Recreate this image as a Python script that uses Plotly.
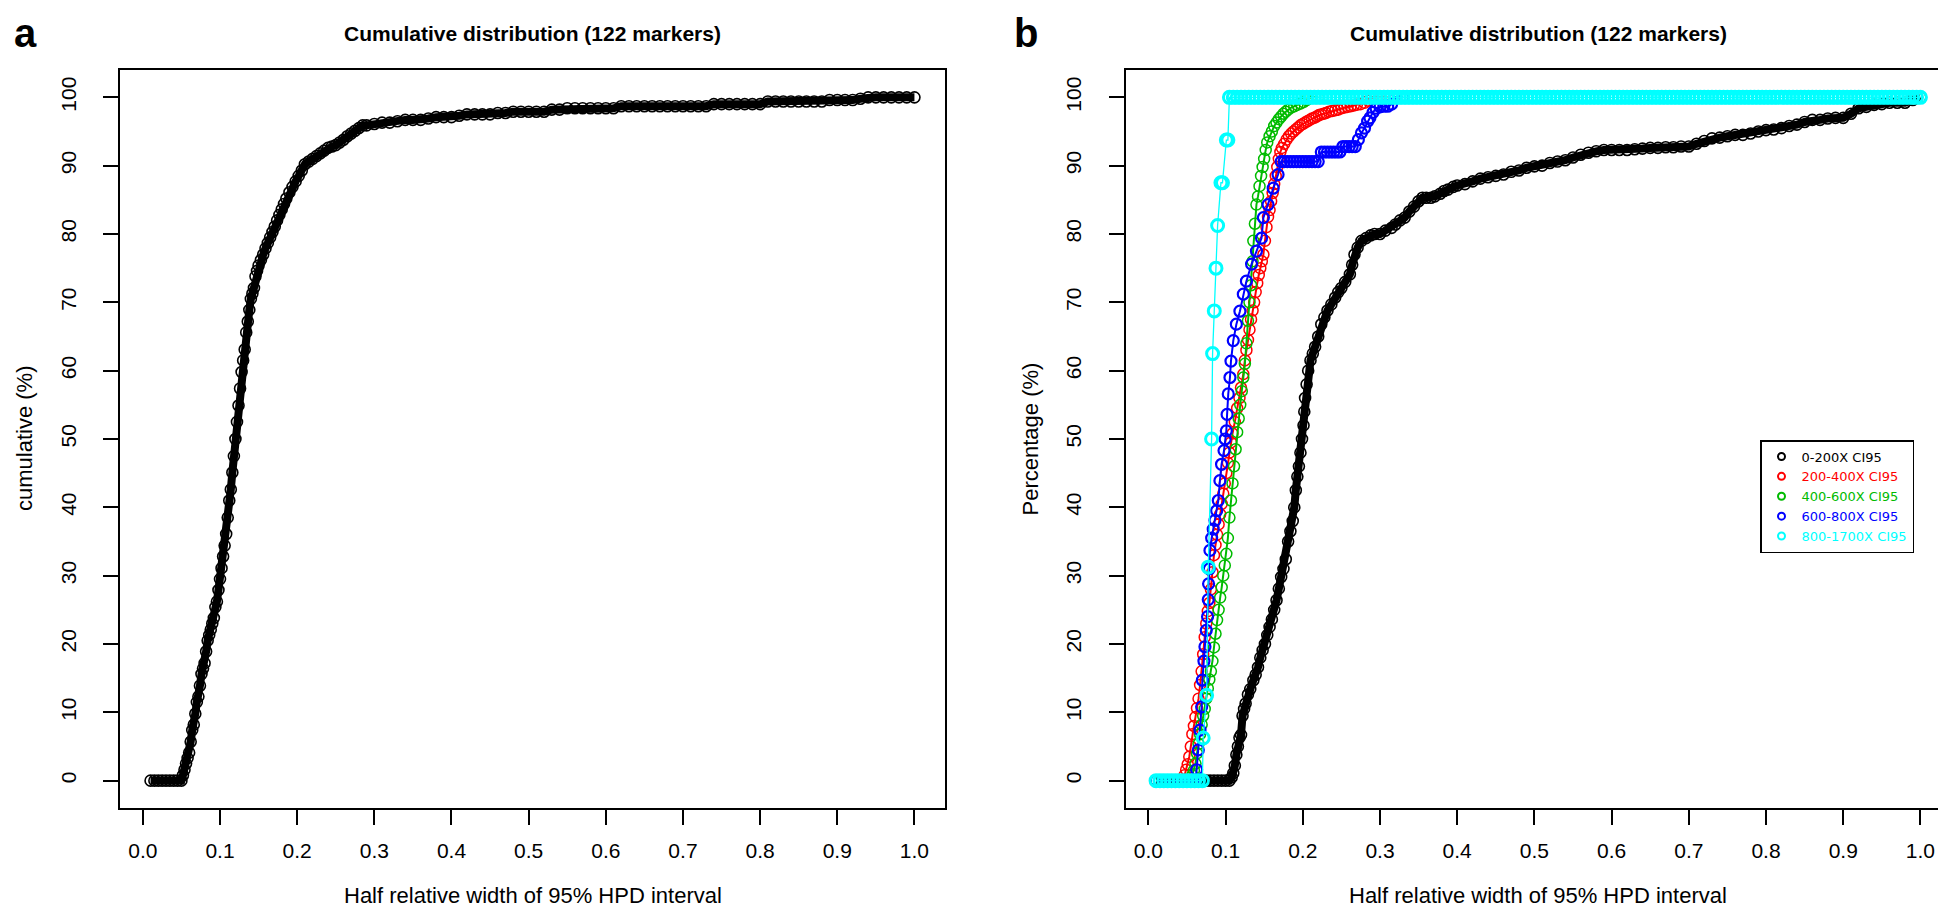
import plotly.graph_objects as go

# ---- panel a: all markers (x = half relative width, y = cumulative %) ----
a_x = [0.010, 0.015, 0.020, 0.025, 0.030, 0.035, 0.040, 0.045, 0.050,
       0.052, 0.054, 0.056, 0.058, 0.060, 0.062, 0.064, 0.066, 0.068, 0.070,
       0.072, 0.074, 0.076, 0.078, 0.080, 0.082, 0.084, 0.086, 0.088, 0.090,
       0.092, 0.094, 0.096, 0.098, 0.100, 0.102, 0.104, 0.106, 0.108, 0.110,
       0.112, 0.114, 0.116, 0.118, 0.120, 0.122, 0.124, 0.126, 0.128, 0.130,
       0.132, 0.134, 0.136, 0.138, 0.140, 0.142, 0.144, 0.146, 0.148, 0.150,
       0.153, 0.156, 0.159, 0.162, 0.165, 0.168, 0.171, 0.174, 0.177, 0.180,
       0.183, 0.186, 0.190, 0.194, 0.198, 0.202, 0.206, 0.210, 0.215, 0.220,
       0.225, 0.230, 0.235, 0.240, 0.245, 0.250, 0.255, 0.260, 0.265, 0.270,
       0.275, 0.280, 0.285, 0.290, 0.300, 0.310, 0.320, 0.330, 0.340, 0.350,
       0.360, 0.370, 0.380, 0.390, 0.400, 0.410, 0.420, 0.430, 0.440, 0.450,
       0.460, 0.470, 0.480, 0.490, 0.500, 0.510, 0.520, 0.530, 0.540, 0.550,
       0.560, 0.570, 0.580, 0.590, 0.600, 0.610, 0.620, 0.630, 0.640, 0.650,
       0.660, 0.670, 0.680, 0.690, 0.700, 0.710, 0.720, 0.730, 0.740, 0.750,
       0.760, 0.770, 0.780, 0.790, 0.800, 0.810, 0.820, 0.830, 0.840, 0.850,
       0.860, 0.870, 0.880, 0.890, 0.900, 0.910, 0.920, 0.930, 0.940, 0.950,
       0.960, 0.970, 0.980, 0.990, 1.000]
a_y = [0, 0, 0, 0, 0, 0, 0, 0, 0,
       0.8, 1.6, 2.5, 3.3, 4.1, 5.7, 7.4, 8.2, 9.8, 11.5,
       12.3, 13.9, 15.6, 16.4, 17.2, 18.9, 20.5, 21.3, 22.1, 23.0,
       23.8, 25.4, 26.2, 27.9, 29.5, 31.1, 32.8, 34.4, 36.1, 38.5,
       41.0, 42.6, 45.1, 47.5, 50.0, 52.5, 54.9, 57.4, 59.8, 61.5,
       63.1, 65.6, 67.2, 68.9, 70.5, 71.3, 72.1, 73.8, 74.6, 75.4,
       76.2, 77.0, 77.9, 78.7, 79.5, 80.3, 81.1, 82.0, 82.8, 83.6,
       84.4, 85.2, 86.1, 86.9, 87.7, 88.5, 89.3, 90.2, 90.6, 91.0,
       91.4, 91.8, 92.2, 92.6, 92.8, 93.0, 93.4, 93.8, 94.3, 94.7,
       95.1, 95.5, 95.9, 95.9, 96.1, 96.3, 96.3, 96.5, 96.7, 96.7,
       96.7, 96.9, 97.1, 97.1, 97.1, 97.3, 97.5, 97.5, 97.5, 97.5,
       97.7, 97.7, 97.9, 97.9, 97.9, 97.9, 97.9, 98.2, 98.2, 98.4,
       98.4, 98.4, 98.4, 98.4, 98.4, 98.4, 98.7, 98.7, 98.7, 98.7,
       98.7, 98.7, 98.7, 98.7, 98.7, 98.7, 98.7, 98.7, 99.0, 99.0,
       99.0, 99.0, 99.0, 99.0, 99.0, 99.4, 99.4, 99.4, 99.4, 99.4,
       99.4, 99.4, 99.4, 99.6, 99.6, 99.6, 99.6, 99.8, 100, 100,
       100, 100, 100, 100, 100]

# ---- panel b: by coverage class ----
cov_0_200_x = [0.010, 0.020, 0.030, 0.040, 0.050, 0.060, 0.070, 0.075, 0.080, 0.085,
               0.090, 0.095, 0.100, 0.105, 0.108, 0.110, 0.112, 0.114, 0.116, 0.118,
               0.120, 0.122, 0.124, 0.126, 0.129, 0.132, 0.136, 0.139, 0.142, 0.145,
               0.148, 0.151, 0.154, 0.157, 0.160, 0.163, 0.166, 0.169, 0.172, 0.175,
               0.178, 0.181, 0.184, 0.187, 0.189, 0.191, 0.193, 0.195, 0.197, 0.199,
               0.201, 0.202, 0.203, 0.205, 0.207, 0.210, 0.213, 0.216, 0.220, 0.224,
               0.228, 0.232, 0.237, 0.242, 0.246, 0.250, 0.255, 0.261, 0.264, 0.267,
               0.271, 0.276, 0.282, 0.288, 0.293, 0.300, 0.307, 0.315, 0.320, 0.326,
               0.332, 0.338, 0.344, 0.350, 0.355, 0.360, 0.366, 0.371, 0.378, 0.383,
               0.388, 0.395, 0.400, 0.410, 0.420, 0.430, 0.440, 0.450, 0.460, 0.470,
               0.480, 0.490, 0.500, 0.510, 0.520, 0.530, 0.540, 0.550, 0.560, 0.570,
               0.580, 0.590, 0.600, 0.610, 0.620, 0.630, 0.640, 0.650, 0.660, 0.670,
               0.680, 0.690, 0.700, 0.710, 0.720, 0.730, 0.740, 0.750, 0.760, 0.770,
               0.780, 0.790, 0.800, 0.810, 0.820, 0.830, 0.840, 0.850, 0.860, 0.870,
               0.880, 0.890, 0.900, 0.910, 0.920, 0.930, 0.940, 0.950, 0.960, 0.970,
               0.980, 0.990, 1.000]
cov_0_200_y = [0, 0, 0, 0, 0, 0, 0, 0, 0, 0,
               0, 0, 0, 0, 0.5, 1.1, 2.2, 3.8, 5.0, 6.3,
               6.7, 9.5, 10.5, 11.3, 12.6, 13.4, 14.7, 15.5, 16.6, 18.0,
               19.1, 20.0, 21.3, 22.5, 23.6, 25.0, 26.4, 28.1, 29.8, 31.0,
               32.4, 35.0, 36.5, 38.0, 40.0, 42.5, 44.5, 46.0, 48.0, 50.0,
               52.0, 54.0, 56.0, 58.0, 60.0, 61.5, 62.5, 63.5, 65.0, 66.8,
               67.8, 68.8, 69.7, 70.7, 71.5, 72.1, 73.0, 74.1, 75.5, 77.0,
               78.0, 79.0, 79.4, 79.8, 80.0, 80.0, 80.5, 80.9, 81.4, 82.0,
               82.4, 83.3, 84.0, 84.8, 85.3, 85.3, 85.3, 85.5, 85.9, 86.3,
               86.5, 86.9, 87.1, 87.3, 87.7, 88.1, 88.3, 88.5, 88.7, 89.1,
               89.3, 89.7, 89.9, 90.0, 90.4, 90.6, 90.8, 91.2, 91.6, 91.9,
               92.1, 92.3, 92.3, 92.3, 92.3, 92.4, 92.5, 92.6, 92.6, 92.7,
               92.7, 92.8, 92.8, 93.2, 93.6, 94.0, 94.1, 94.3, 94.5, 94.5,
               94.7, 95.0, 95.2, 95.3, 95.5, 95.8, 96.0, 96.4, 96.7, 96.7,
               96.9, 97.0, 97.0, 97.6, 98.4, 98.6, 98.9, 99.0, 99.2, 99.2,
               99.2, 99.6, 100]

cov_200_400_x = [0.010, 0.020, 0.030, 0.040, 0.045, 0.047, 0.049, 0.051, 0.053, 0.055,
                 0.057, 0.059, 0.061, 0.063, 0.065, 0.067, 0.069, 0.071, 0.073, 0.075,
                 0.077, 0.079, 0.081, 0.083, 0.085, 0.087, 0.089, 0.091, 0.093, 0.095,
                 0.097, 0.099, 0.101, 0.103, 0.105, 0.107, 0.109, 0.112, 0.115, 0.118,
                 0.120, 0.123, 0.125, 0.127, 0.129, 0.131, 0.133, 0.135, 0.137, 0.139,
                 0.141, 0.143, 0.145, 0.147, 0.149, 0.151, 0.153, 0.155, 0.157, 0.159,
                 0.161, 0.163, 0.165, 0.167, 0.169, 0.171, 0.173, 0.176, 0.179, 0.182,
                 0.185, 0.188, 0.191, 0.194, 0.197, 0.200, 0.203, 0.206, 0.209, 0.212,
                 0.215, 0.218, 0.221, 0.224, 0.227, 0.230, 0.234, 0.238, 0.242, 0.246,
                 0.250, 0.254, 0.258, 0.262, 0.266, 0.270, 0.275, 0.280, 0.285, 0.290,
                 0.300, 0.310]
cov_200_400_y = [0, 0, 0, 0, 0, 0.8, 1.6, 2.4, 3.5, 5.0,
                 6.8, 8.0, 9.3, 10.6, 12.0, 14.0, 16.0, 18.5, 21.0, 23.0,
                 24.8, 26.0, 28.0, 30.5, 33.0, 34.5, 36.0, 37.5, 39.0, 40.5,
                 42.0, 43.5, 45.0, 46.5, 48.0, 49.5, 50.8, 52.5, 54.5, 56.0,
                 57.5, 59.5, 61.5, 63.0, 64.5, 66.0, 67.5, 68.8, 70.0, 71.5,
                 72.8, 74.0, 75.0, 76.0, 77.0, 79.0, 81.0, 82.5, 83.5, 84.8,
                 86.0, 87.3, 88.5, 89.8, 91.0, 92.0, 92.6, 93.2, 93.8, 94.3,
                 94.7, 95.0, 95.3, 95.6, 95.9, 96.1, 96.3, 96.5, 96.7, 96.9,
                 97.0, 97.2, 97.4, 97.5, 97.6, 97.7, 97.9, 98.0, 98.1, 98.2,
                 98.4, 98.5, 98.6, 98.7, 98.8, 98.9, 99.0, 99.2, 99.5, 100,
                 100, 100]

cov_400_600_x = [0.010, 0.020, 0.030, 0.040, 0.050, 0.055, 0.057, 0.059, 0.061, 0.063,
                 0.065, 0.067, 0.069, 0.071, 0.073, 0.075, 0.077, 0.079, 0.081, 0.083,
                 0.085, 0.087, 0.089, 0.091, 0.093, 0.095, 0.097, 0.099, 0.101, 0.103,
                 0.105, 0.107, 0.109, 0.111, 0.113, 0.115, 0.117, 0.119, 0.121, 0.123,
                 0.125, 0.127, 0.129, 0.131, 0.133, 0.135, 0.136, 0.138, 0.140, 0.142,
                 0.144, 0.146, 0.148, 0.150, 0.152, 0.154, 0.157, 0.160, 0.163, 0.166,
                 0.169, 0.172, 0.175, 0.178, 0.181, 0.185, 0.189, 0.193, 0.197, 0.201,
                 0.205, 0.210, 0.220]
cov_400_600_y = [0, 0, 0, 0, 0, 0, 0.8, 1.5, 2.5, 4.0,
                 5.4, 6.8, 8.2, 9.5, 10.5, 12.0, 13.5, 14.8, 16.0, 17.5,
                 19.5, 21.5, 23.5, 25.0, 26.8, 28.3, 30.0, 31.5, 33.2, 35.5,
                 38.5, 41.0, 43.5, 46.0, 48.5, 51.0, 53.0, 55.0, 57.0, 59.0,
                 61.0, 64.0, 67.3, 70.0, 72.5, 76.0, 79.0, 81.5, 84.3, 85.5,
                 87.0, 88.5, 89.8, 91.0, 92.3, 93.4, 94.3, 95.0, 95.8, 96.3,
                 96.8, 97.2, 97.6, 97.9, 98.2, 98.5, 98.7, 98.9, 99.1, 99.3,
                 99.6, 100, 100]

cov_600_800_x = [0.010, 0.020, 0.030, 0.040, 0.050, 0.058, 0.061, 0.0625, 0.0647, 0.0669,
                 0.069, 0.070, 0.072, 0.0733, 0.075, 0.0767, 0.0776, 0.078, 0.079, 0.0798,
                 0.082, 0.084, 0.0863, 0.0885, 0.0906, 0.0927, 0.0948, 0.098, 0.0995, 0.101,
                 0.102, 0.1035, 0.1057, 0.107, 0.110, 0.114, 0.1186, 0.123, 0.127, 0.1337,
                 0.140, 0.1466, 0.149, 0.155, 0.1617, 0.168, 0.172, 0.176, 0.180, 0.184,
                 0.188, 0.192, 0.196, 0.200, 0.204, 0.208, 0.212, 0.216, 0.220, 0.224,
                 0.228, 0.232, 0.236, 0.240, 0.244, 0.248, 0.252, 0.256, 0.260, 0.264,
                 0.268, 0.272, 0.276, 0.280, 0.284, 0.287, 0.291, 0.295, 0.300, 0.305,
                 0.310, 0.315, 0.320, 0.330]
cov_600_800_y = [0, 0, 0, 0, 0, 0, 0, 1.6, 4.5, 7.4,
                 10.8, 14.7, 17.5, 19.6, 22.0, 24.0, 26.5, 28.8, 31.0, 33.7,
                 35.5, 36.8, 38.1, 39.5, 41.0, 43.9, 46.3, 48.3, 50.0, 51.2,
                 53.6, 56.6, 59.0, 61.4, 64.4, 66.8, 68.7, 71.2, 73.1, 75.6,
                 77.5, 79.4, 82.4, 84.3, 86.7, 88.7, 90.6, 90.6, 90.6, 90.6,
                 90.6, 90.6, 90.6, 90.6, 90.6, 90.6, 90.6, 90.6, 90.6, 92.0,
                 92.0, 92.0, 92.0, 92.0, 92.0, 92.0, 92.8, 92.8, 92.8, 92.8,
                 92.8, 93.8, 94.8, 95.5, 96.5, 97.0, 97.8, 98.4, 98.6, 98.7,
                 98.7, 99.0, 100, 100]

cov_800_1700_x = [0.010, 0.015, 0.020, 0.025, 0.030, 0.035, 0.040, 0.045, 0.050, 0.055,
                  0.060, 0.065, 0.070,
                  0.071, 0.0755, 0.0776, 0.0819, 0.0832, 0.0854, 0.0876, 0.0897,
                  0.094, 0.096, 0.101, 0.103,
                  0.105, 0.110, 0.115, 0.120, 0.125, 0.130, 0.135, 0.140, 0.145, 0.150,
                  0.155, 0.160, 0.165, 0.170, 0.175, 0.180, 0.185, 0.190, 0.195, 0.200,
                  0.205, 0.210, 0.215, 0.220, 0.225, 0.230, 0.235, 0.240, 0.245, 0.250,
                  0.255, 0.260, 0.265, 0.270, 0.275, 0.280, 0.285, 0.290, 0.295, 0.300,
                  0.305, 0.310, 0.315, 0.320, 0.325, 0.330, 0.335, 0.340, 0.345, 0.350,
                  0.355, 0.360, 0.365, 0.370, 0.375, 0.380, 0.385, 0.390, 0.395, 0.400,
                  0.405, 0.410, 0.415, 0.420, 0.425, 0.430, 0.435, 0.440, 0.445, 0.450,
                  0.455, 0.460, 0.465, 0.470, 0.475, 0.480, 0.485, 0.490, 0.495, 0.500,
                  0.505, 0.510, 0.515, 0.520, 0.525, 0.530, 0.535, 0.540, 0.545, 0.550,
                  0.555, 0.560, 0.565, 0.570, 0.575, 0.580, 0.585, 0.590, 0.595, 0.600,
                  0.605, 0.610, 0.615, 0.620, 0.625, 0.630, 0.635, 0.640, 0.645, 0.650,
                  0.655, 0.660, 0.665, 0.670, 0.675, 0.680, 0.685, 0.690, 0.695, 0.700,
                  0.705, 0.710, 0.715, 0.720, 0.725, 0.730, 0.735, 0.740, 0.745, 0.750,
                  0.755, 0.760, 0.765, 0.770, 0.775, 0.780, 0.785, 0.790, 0.795, 0.800,
                  0.805, 0.810, 0.815, 0.820, 0.825, 0.830, 0.835, 0.840, 0.845, 0.850,
                  0.855, 0.860, 0.865, 0.870, 0.875, 0.880, 0.885, 0.890, 0.895, 0.900,
                  0.905, 0.910, 0.915, 0.920, 0.925, 0.930, 0.935, 0.940, 0.945, 0.950,
                  0.955, 0.960, 0.965, 0.970, 0.975, 0.980, 0.985, 0.990, 0.995, 1.000]
cov_800_1700_y = [0, 0, 0, 0, 0, 0, 0, 0, 0, 0,
                  0, 0, 0,
                  6.25, 12.5, 31.25, 50.0, 62.5, 68.75, 75.0, 81.25,
                  87.5, 87.5, 93.75, 93.75,
                  100, 100, 100, 100, 100, 100, 100, 100, 100, 100,
                  100, 100, 100, 100, 100, 100, 100, 100, 100, 100,
                  100, 100, 100, 100, 100, 100, 100, 100, 100, 100,
                  100, 100, 100, 100, 100, 100, 100, 100, 100, 100,
                  100, 100, 100, 100, 100, 100, 100, 100, 100, 100,
                  100, 100, 100, 100, 100, 100, 100, 100, 100, 100,
                  100, 100, 100, 100, 100, 100, 100, 100, 100, 100,
                  100, 100, 100, 100, 100, 100, 100, 100, 100, 100,
                  100, 100, 100, 100, 100, 100, 100, 100, 100, 100,
                  100, 100, 100, 100, 100, 100, 100, 100, 100, 100,
                  100, 100, 100, 100, 100, 100, 100, 100, 100, 100,
                  100, 100, 100, 100, 100, 100, 100, 100, 100, 100,
                  100, 100, 100, 100, 100, 100, 100, 100, 100, 100,
                  100, 100, 100, 100, 100, 100, 100, 100, 100, 100,
                  100, 100, 100, 100, 100, 100, 100, 100, 100, 100,
                  100, 100, 100, 100, 100, 100, 100, 100, 100, 100,
                  100, 100, 100, 100, 100, 100, 100, 100, 100, 100,
                  100, 100, 100, 100, 100, 100, 100, 100, 100, 100]

series_names = ["0-200X CI95", "200-400X CI95", "400-600X CI95",
                "600-800X CI95", "800-1700X CI95"]
series_colors = ["#000000", "#ff0000", "#00bb00", "#0000ff", "#00ffff"]
panel_b = [(cov_0_200_x, cov_0_200_y), (cov_200_400_x, cov_200_400_y),
           (cov_400_600_x, cov_400_600_y), (cov_600_800_x, cov_600_800_y),
           (cov_800_1700_x, cov_800_1700_y)]

W, H = 1946, 911
FONT = "Liberation Sans, Arial, Helvetica, sans-serif"

fig = go.Figure()

# panel a
fig.add_trace(go.Scatter(
    x=a_x, y=a_y, mode="lines+markers", xaxis="x", yaxis="y", showlegend=False,
    line=dict(color="black", width=8),
    marker=dict(symbol="circle-open", size=11, color="black", line=dict(width=1.6)),
))

# panel b, drawn in the same order as the original (cyan last, on top)
line_w = [8, 2, 2, 2, 1.3]
mk_size = [11, 11, 11, 11, 12]
mk_w = [1.6, 1.5, 1.5, 2.2, 3.0]
for (xs, ys), col, lw, ms, mw in zip(panel_b, series_colors, line_w, mk_size, mk_w):
    fig.add_trace(go.Scatter(
        x=xs, y=ys, mode="lines+markers", xaxis="x2", yaxis="y2", showlegend=False,
        line=dict(color=col, width=lw),
        marker=dict(symbol="circle-open", size=ms, color=col, line=dict(width=mw)),
    ))

# legend entries (symbol only)
for name, col in zip(series_names, series_colors):
    fig.add_trace(go.Scatter(
        x=[None], y=[None], mode="markers", xaxis="x2", yaxis="y2",
        name='<span style="color:%s">%s</span>' % (col, name),
        marker=dict(symbol="circle-open", size=7, color=col, line=dict(width=2)),
    ))

xa = dict(range=[-0.0296, 1.0396], tick0=0, dtick=0.1, tickformat=".1f",
          showgrid=False, zeroline=False, showline=True, mirror=True,
          linecolor="black", linewidth=1.6, ticks="outside", ticklen=15,
          tickwidth=1.5, tickcolor="black", ticklabelstandoff=8,
          tickfont=dict(family=FONT, size=21, color="black"))
ya = dict(range=[-4, 104], tick0=0, dtick=10, tickangle=-90,
          showgrid=False, zeroline=False, showline=True, mirror=True,
          linecolor="black", linewidth=1.6, ticks="outside", ticklen=15,
          tickwidth=1.5, tickcolor="black", ticklabelstandoff=19,
          tickfont=dict(family=FONT, size=21, color="black"))

ydom = [111 / H, 849 / H]
fig.update_layout(
    width=W, height=H,
    margin=dict(l=0, r=0, t=0, b=0),
    paper_bgcolor="white", plot_bgcolor="white",
    font=dict(family=FONT, color="black"),
    xaxis=dict(xa, domain=[112 / W, 937 / W], anchor="y"),
    yaxis=dict(ya, domain=ydom, anchor="x"),
    xaxis2=dict(xa, domain=[1117.5 / W, 1943 / W], anchor="y2"),
    yaxis2=dict(ya, domain=ydom, anchor="x2"),
    showlegend=True,
    legend=dict(x=1752 / W, y=1 - 432 / H, xanchor="left", yanchor="top",
                bgcolor="white", bordercolor="black", borderwidth=1.5,
                font=dict(family="DejaVu Sans, sans-serif", size=13),
                itemwidth=30, tracegroupgap=0),
)


def ann(px, py, text, size, bold=False, angle=0, yanchor="middle"):
    fig.add_annotation(
        x=px / W, y=1 - py / H, xref="paper", yref="paper",
        text="<b>%s</b>" % text if bold else text, showarrow=False,
        textangle=angle, xanchor="center", yanchor=yanchor,
        font=dict(family=FONT, size=size, color="black"))


title = "Cumulative distribution (122 markers)"
xlab = "Half relative width of 95% HPD interval"
ann(17, 1, "a", 40, bold=True, yanchor="top")
ann(1018, 1, "b", 40, bold=True, yanchor="top")
ann(524.5, 26, title, 21, bold=True)
ann(1530, 26, title, 21, bold=True)
ann(524.5, 887, xlab, 22)
ann(1530, 887, xlab, 22)
ann(16, 431, "cumulative (%)", 22, angle=-90)
ann(1021.5, 431, "Percentage (%)", 22, angle=-90)

fig.write_html("out.html")
